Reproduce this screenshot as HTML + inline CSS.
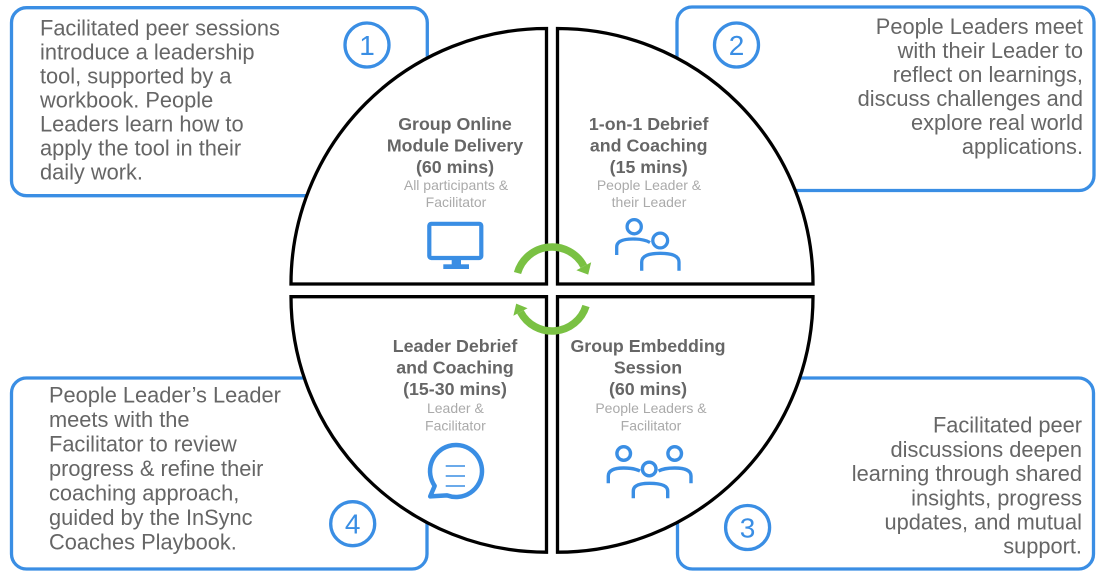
<!DOCTYPE html>
<html>
<head>
<meta charset="utf-8">
<style>
  html,body{margin:0;padding:0;background:#fff;}
  svg{display:block;}
  .bt{font-family:"Liberation Sans",Arial,sans-serif;font-size:21.8px;fill:#666;}
  .qt{font-family:"Liberation Sans",Arial,sans-serif;font-size:17.8px;font-weight:bold;fill:#666;text-anchor:middle;}
  .qs{font-family:"Liberation Sans",Arial,sans-serif;font-size:14px;fill:#aaa;text-anchor:middle;}
  .num{font-family:"Liberation Sans",Arial,sans-serif;font-size:28px;fill:#3a8ee4;text-anchor:middle;}
</style>
</head>
<body>
<svg width="1106" height="582" viewBox="0 0 1106 582" xmlns="http://www.w3.org/2000/svg">
  <!-- Blue boxes -->
  <g fill="#fff" stroke="#3a8ee4" stroke-width="3.3">
    <rect x="11.5" y="7.7" width="415.8" height="188" rx="15"/>
    <rect x="677" y="7" width="417" height="183.5" rx="15"/>
    <rect x="677.5" y="378" width="416" height="191" rx="15"/>
    <rect x="11.5" y="378" width="415.5" height="191" rx="15"/>
  </g>

  <!-- number circles -->
  <g fill="#fff" stroke="#3a8ee4" stroke-width="3.3">
    <circle cx="367" cy="45" r="22"/>
    <circle cx="736.5" cy="45" r="22"/>
    <circle cx="747.6" cy="527.5" r="22"/>
    <circle cx="352.7" cy="523.7" r="22"/>
  </g>
  <text class="num" x="367" y="55">1</text>
  <text class="num" x="736.5" y="55">2</text>
  <text class="num" x="747.6" y="537.5">3</text>
  <text class="num" x="352.7" y="533.7">4</text>

  <!-- Box texts -->
  <text class="bt" x="40" y="35.5">Facilitated peer sessions</text>
  <text class="bt" x="40" y="59.5">introduce a leadership</text>
  <text class="bt" x="40" y="83.5">tool, supported by a</text>
  <text class="bt" x="40" y="107.5">workbook. People</text>
  <text class="bt" x="40" y="131.5">Leaders learn how to</text>
  <text class="bt" x="40" y="155.5">apply the tool in their</text>
  <text class="bt" x="40" y="179.5">daily work.</text>

  <g text-anchor="end">
  <text class="bt" x="1083" y="34">People Leaders meet</text>
  <text class="bt" x="1083" y="58">with their Leader to</text>
  <text class="bt" x="1083" y="82">reflect on learnings,</text>
  <text class="bt" x="1083" y="106">discuss challenges and</text>
  <text class="bt" x="1083" y="130">explore real world</text>
  <text class="bt" x="1083" y="154">applications.</text>

  <text class="bt" x="1082" y="432.7">Facilitated peer</text>
  <text class="bt" x="1082" y="456.9">discussions deepen</text>
  <text class="bt" x="1082" y="481.1">learning through shared</text>
  <text class="bt" x="1082" y="505.3">insights, progress</text>
  <text class="bt" x="1082" y="529.5">updates, and mutual</text>
  <text class="bt" x="1082" y="553.7">support.</text>
  </g>

  <text class="bt" x="49" y="402.7">People Leader’s Leader</text>
  <text class="bt" x="49" y="427.2">meets with the</text>
  <text class="bt" x="49" y="451.7">Facilitator to review</text>
  <text class="bt" x="49" y="476.2">progress &amp; refine their</text>
  <text class="bt" x="49" y="500.7">coaching approach,</text>
  <text class="bt" x="49" y="525.2">guided by the InSync</text>
  <text class="bt" x="49" y="549.7">Coaches Playbook.</text>

  <!-- Quadrants -->
  <g fill="#fff" stroke="#000" stroke-width="3.3" stroke-linejoin="miter">
    <path d="M546.5,284 L291,284 A255.5,255.5 0 0 1 546.5,28.5 Z"/>
    <path d="M557.5,284 L557.5,28.5 A255.5,255.5 0 0 1 813,284 Z"/>
    <path d="M546.5,296.7 L546.5,552.2 A255.5,255.5 0 0 1 291,296.7 Z"/>
    <path d="M557.5,296.7 L813,296.7 A255.5,255.5 0 0 1 557.5,552.2 Z"/>
  </g>

  <!-- Quadrant texts -->
  <text class="qt" x="455" y="130">Group Online</text>
  <text class="qt" x="455" y="151.5">Module Delivery</text>
  <text class="qt" x="455" y="173">(60 mins)</text>
  <text class="qs" x="456" y="190">All participants &amp;</text>
  <text class="qs" x="456" y="207">Facilitator</text>

  <text class="qt" x="648.7" y="130">1-on-1 Debrief</text>
  <text class="qt" x="648.7" y="151.5">and Coaching</text>
  <text class="qt" x="648.7" y="173">(15 mins)</text>
  <text class="qs" x="649" y="190">People Leader &amp;</text>
  <text class="qs" x="649" y="207">their Leader</text>

  <text class="qt" x="455" y="352">Leader Debrief</text>
  <text class="qt" x="455" y="373.5">and Coaching</text>
  <text class="qt" x="455" y="395">(15-30 mins)</text>
  <text class="qs" x="455.4" y="413">Leader &amp;</text>
  <text class="qs" x="455.4" y="430.3">Facilitator</text>

  <text class="qt" x="648" y="352">Group Embedding</text>
  <text class="qt" x="648" y="373.5">Session</text>
  <text class="qt" x="648" y="395">(60 mins)</text>
  <text class="qs" x="651" y="413">People Leaders &amp;</text>
  <text class="qs" x="651" y="430.3">Facilitator</text>

  <!-- Monitor icon -->
  <g fill="#3a8ee4">
    <rect x="429.3" y="223.8" width="52" height="34.2" rx="2" fill="none" stroke="#3a8ee4" stroke-width="4.2"/>
    <rect x="451.7" y="259" width="9.3" height="6"/>
    <rect x="443.3" y="264.3" width="25.7" height="4.7"/>
  </g>

  <!-- Two-person icon -->
  <g fill="none" stroke="#3a8ee4" stroke-width="3.3" stroke-linecap="butt">
    <circle cx="634.2" cy="226.7" r="7.1"/>
    <path d="M616.7,255 L616.7,247 Q616.7,239 633,239 Q644,239 650,242.5"/>
    <circle cx="660.2" cy="240.5" r="7.4"/>
    <path d="M641.7,270.7 L641.7,262 Q641.7,253.3 660.3,253.3 Q679,253.3 679,262 L679,270.7"/>
  </g>

  <!-- Three-person icon -->
  <g fill="none" stroke="#3a8ee4" stroke-width="3.4">
    <circle cx="623.7" cy="453.5" r="6.8"/>
    <path d="M608.3,483.3 L608.3,476 Q608.3,468 623.7,468 Q634,468 640,471"/>
    <circle cx="674.7" cy="453.5" r="6.8"/>
    <path d="M691,483.3 L691,476 Q691,468 674.7,468 Q664,468 658.5,471"/>
    <circle cx="649.2" cy="469" r="6.8"/>
    <path d="M633.3,498.3 L633.3,491 Q633.3,483.3 649.5,483.3 Q667.7,483.3 667.7,491 L667.7,498.3"/>
  </g>

  <!-- Speech bubble -->
  <g fill="none" stroke="#3a8ee4">
    <path d="M447,495.4 A26,26 0 1 0 434.7,485.9 L430.2,496.4 Z" stroke-width="4.5" stroke-linejoin="round"/>
    <g stroke-width="1.5">
      <line x1="445.7" y1="466" x2="465" y2="466"/>
      <line x1="445.7" y1="476" x2="465" y2="476"/>
      <line x1="445.7" y1="486" x2="465" y2="486"/>
    </g>
  </g>

  <!-- Green cycle arrows -->
  <g fill="none" stroke="#7ac143" stroke-width="7.5">
    <path d="M517.5,273 A35.9,35.9 0 0 1 583.8,266.2"/>
    <path d="M586,306 A35.6,35.6 0 0 1 520.5,312"/>
  </g>
  <g fill="#7ac143">
    <polygon points="591.2,262.2 576.4,270.2 588.2,274.6"/>
    <polygon points="527.6,308.2 513.4,315.8 516.2,303.6"/>
  </g>
</svg>
</body>
</html>
